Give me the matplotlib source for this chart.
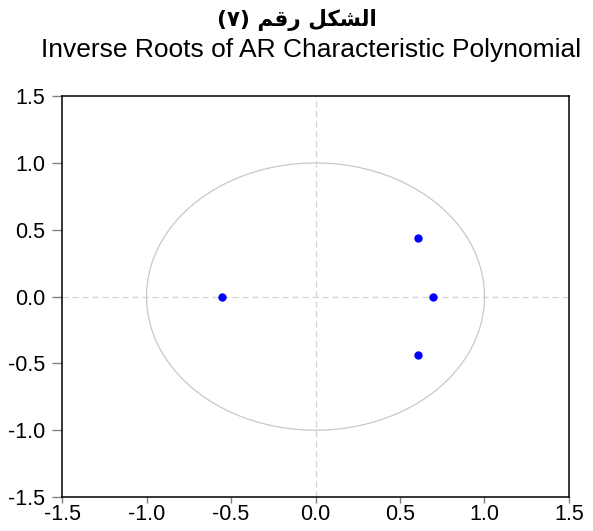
import numpy as np
import matplotlib
matplotlib.use('Agg')
import matplotlib.pyplot as plt

rootsRe = [-0.553, 0.606, 0.606, 0.695]
rootsIm = [0.0, 0.44, -0.435, 0.0]

ticks = [-1.5, -1.0, -0.5, 0.0, 0.5, 1.0, 1.5]
tickLbls = ['-1.5', '-1.0', '-0.5', '0.0', '0.5', '1.0', '1.5']

# "الشكل رقم (٧)" in presentation forms, visual order (no shaping in matplotlib)
arTitle = '(\u0667) ' + '\uFEE2\uFED7\uFEAD' + ' ' + '\uFEDE\uFEDC\uFEB8\uFEDF\uFE8D'
enTitle = 'Inverse Roots of AR Characteristic Polynomial'

plt.rcParams['font.family'] = ['Liberation Sans', 'DejaVu Sans']

fig = plt.figure(figsize=(5.93, 5.31), dpi=100)
ax = fig.add_axes([0.1046, 0.064, 0.8549, 0.755])

# unit circle
t = np.linspace(0, 2 * np.pi, 400)
ax.plot(np.cos(t), np.sin(t), color='#c8c8c8', lw=0.9)
ax.axhline(0, color='#d4d4d4', lw=0.9, ls=(0, (5, 3)))
ax.axvline(0, color='#d4d4d4', lw=0.9, ls=(0, (5, 3)))
ax.plot(rootsRe, rootsIm, 'o', color='#0000ff', ms=5, mec='#0000ff')

ax.set_xlim(-1.5, 1.5)
ax.set_ylim(-1.5, 1.5)
ax.set_xticks(ticks)
ax.set_xticklabels(tickLbls)
ax.set_yticks(ticks)
ax.set_yticklabels(tickLbls)
ax.tick_params(axis='both', labelsize=15.5, direction='out', width=1, color='#808080')
ax.tick_params(axis='y', length=7, pad=5)
ax.tick_params(axis='x', length=4, pad=1)
for sp in ax.spines.values():
    sp.set_linewidth(1.1)

fig.text(0.5, 0.962, arTitle, ha='center', va='center', fontsize=15.5,
         fontweight='bold', family=['DejaVu Sans'])
fig.text(0.5245, 0.906, enTitle, ha='center', va='center', fontsize=19)

fig.savefig('out.png', dpi=100)
